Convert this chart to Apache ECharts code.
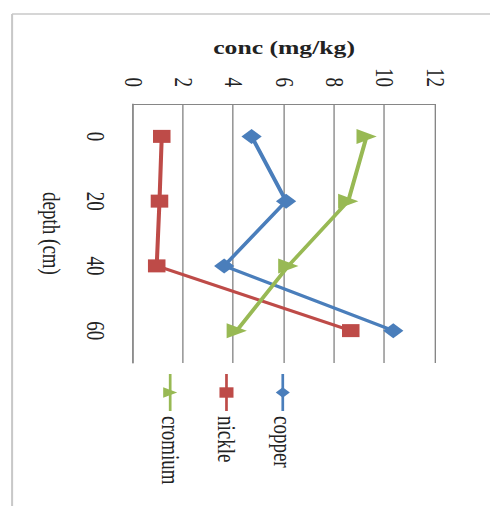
<!DOCTYPE html>
<html><head><meta charset="utf-8">
<script src="https://cdn.jsdelivr.net/npm/echarts@6/dist/echarts.min.js"></script>
<style>
html,body{margin:0;padding:0;background:#fff;overflow:hidden;width:490px;height:506px;}
#wrap{position:absolute;left:0;top:0;width:506px;height:363px;transform-origin:0 0;transform:translate(490px,0) scaleX(1.35) rotate(90deg);}
</style></head><body><div id="wrap"></div>
<script>
// depth (cm) categories and concentrations (mg/kg)
const categories = ['0', '20', '40', '60'];
const copper = [4.71, 6.08, 3.62, 10.34];
const nickle = [1.14, 1.05, 0.94, 8.65];
const cromium = [9.28, 8.55, 6.17, 4.12];
const valueMin = 0, valueMax = 12, valueStep = 2;
const seriesNames = ['copper', 'nickle', 'cromium'];

const FONT = '"Liberation Serif", "DejaVu Serif", serif';
const chart = echarts.init(document.getElementById('wrap'), null, {renderer: 'svg'});
const mk = (name, data, color, symbol) => ({
  name, type: 'line', data, symbol, symbolSize: symbol === 'rect' ? 13 : 15,
  lineStyle: {color, width: 3}, itemStyle: {color},
  emphasis: {disabled: true}, animation: false
});
chart.setOption({
  animation: false,
  backgroundColor: '#fff',
  grid: {left: 104, right: 143, top: 40.7, bottom: 98.6, containLabel: false},
  legend: {
    orient: 'vertical', left: 373, top: 144, padding: 0, itemWidth: 37, itemHeight: 13, itemGap: 22.7,
    data: seriesNames,
    textStyle: {fontFamily: FONT, fontSize: 19, color: '#222'}
  },
  xAxis: {
    type: 'category', data: categories, boundaryGap: true,
    name: 'depth (cm)', nameLocation: 'middle', nameGap: 51,
    nameTextStyle: {fontFamily: FONT, fontSize: 19, color: '#222'},
    axisLine: {lineStyle: {color: '#868686', width: 1}},
    axisTick: {show: false},
    axisLabel: {fontFamily: FONT, fontSize: 19, color: '#222', margin: 18}
  },
  yAxis: {
    type: 'value', min: valueMin, max: valueMax, interval: valueStep,
    name: 'conc (mg/kg)', nameLocation: 'middle', nameGap: 47, nameRotate: 90,
    nameTextStyle: {fontFamily: FONT, fontSize: 19, fontWeight: 'bold', color: '#222'},
    axisLine: {show: true, lineStyle: {color: '#868686', width: 1}},
    axisTick: {show: false},
    splitLine: {lineStyle: {color: '#868686', width: 1}},
    axisLabel: {fontFamily: FONT, fontSize: 19, color: '#222', margin: 17}
  },
  graphic: [
    {type: 'line', shape: {x1: 14, y1: -5, x2: 14, y2: 354}, style: {stroke: '#c8c8c8', lineWidth: 1.5}, silent: true},
    {type: 'line', shape: {x1: 14, y1: 354, x2: 520, y2: 354}, style: {stroke: '#c8c8c8', lineWidth: 1.5}, silent: true}
  ],
  series: [
    mk('copper', copper, '#4A7EBB', 'diamond'),
    mk('nickle', nickle, '#BE4B48', 'rect'),
    mk('cromium', cromium, '#98B954', 'triangle')
  ]
});
</script></body></html>
